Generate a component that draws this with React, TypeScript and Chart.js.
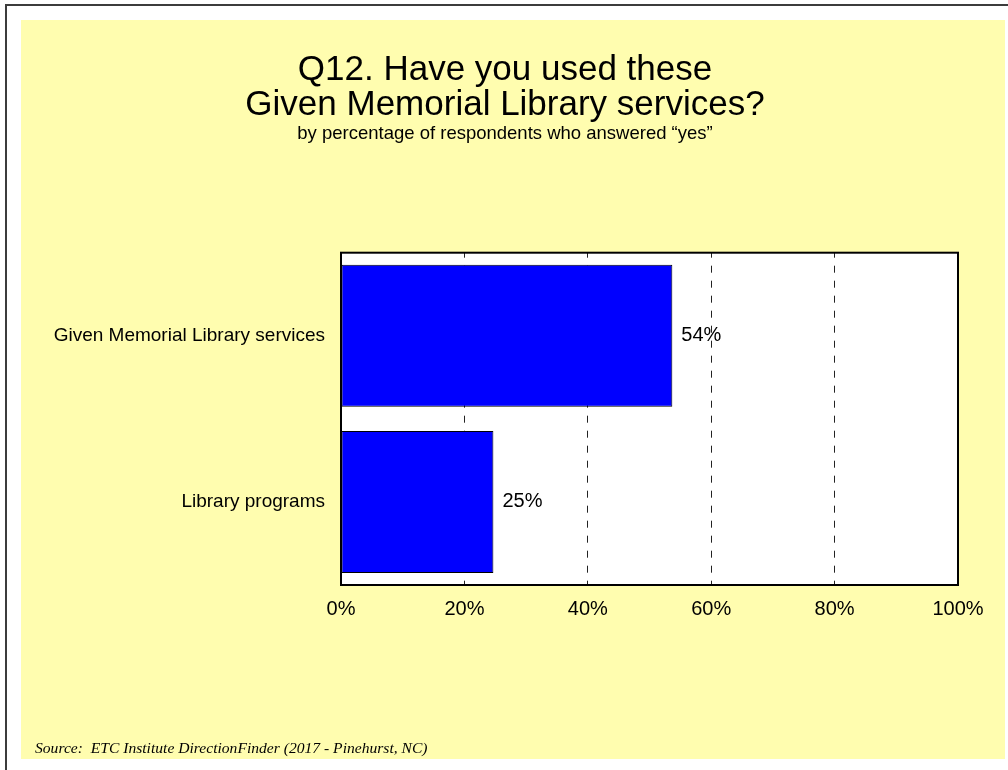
import React, { useEffect, useRef } from "react";
import { Chart, registerables } from "chart.js";

Chart.register(...registerables);

// Survey data: share of respondents answering "yes"
const categories = ["Given Memorial Library services", "Library programs"];
const yesPercent = [53.7, 24.7];
const axisMin = 0;
const axisMax = 100;
const axisStep = 20;

const titleLines = ["Q12. Have you used these", "Given Memorial Library services?"];
const subtitleText = "by percentage of respondents who answered \u201cyes\u201d";
const sourceText = "Source:  ETC Institute DirectionFinder (2017 - Pinehurst, NC)";

const SANS = '"Liberation Sans", Arial, Helvetica, sans-serif';
const SERIF = '"Liberation Serif", "Times New Roman", Times, serif';
const PANEL_W = 984;
const PANEL_H = 739;

// White plot background, black frame, value labels and the source note
const decorations = {
  id: "decorations",
  beforeDraw(chart: any) {
    const { ctx, chartArea: a } = chart;
    ctx.save();
    ctx.fillStyle = "#ffffff";
    ctx.fillRect(a.left, a.top, a.right - a.left, a.bottom - a.top);
    ctx.restore();
  },
  afterDatasetsDraw(chart: any) {
    const { ctx, chartArea: a } = chart;
    ctx.save();
    ctx.strokeStyle = "#000000";
    ctx.lineWidth = 2;
    ctx.strokeRect(a.left, a.top, a.right - a.left, a.bottom - a.top);

    const meta = chart.getDatasetMeta(0);
    ctx.fillStyle = "#000000";
    ctx.font = `20px ${SANS}`;
    ctx.textAlign = "left";
    ctx.textBaseline = "middle";
    meta.data.forEach((bar: any, i: number) => {
      const v = chart.data.datasets[0].data[i] as number;
      ctx.fillText(`${Math.round(v)}%`, bar.x + 9, bar.y);
    });

    ctx.font = `italic 15.6px ${SERIF}`;
    ctx.textBaseline = "alphabetic";
    ctx.fillText(sourceText, 14, 733);
    ctx.restore();
  },
};

export default function App() {
  const canvasRef = useRef<HTMLCanvasElement | null>(null);

  useEffect(() => {
    const canvas = canvasRef.current;
    if (!canvas) return;
    const chart = new Chart(canvas, {
      type: "bar",
      data: {
        labels: categories,
        datasets: [
          {
            data: yesPercent,
            backgroundColor: "#0000ff",
            borderColor: "#000000",
            borderWidth: 1,
            borderSkipped: false,
            categoryPercentage: 1,
            barPercentage: 0.855,
          },
        ],
      },
      plugins: [decorations],
      options: {
        indexAxis: "y",
        responsive: false,
        animation: false,
        devicePixelRatio: 1,
        layout: { padding: { left: 31, right: 47, top: 0, bottom: 0 } },
        plugins: {
          legend: { display: false },
          tooltip: { enabled: false },
          title: {
            display: true,
            text: titleLines,
            color: "#000000",
            font: { family: SANS, size: 35, weight: "normal", lineHeight: 1 },
            padding: { top: 33, bottom: 0 },
          },
          subtitle: {
            display: true,
            text: subtitleText,
            color: "#000000",
            font: { family: SANS, size: 18.5, weight: "normal", lineHeight: 1.2 },
            padding: { top: 0, bottom: 107.5 },
          },
        },
        scales: {
          x: {
            type: "linear",
            position: "bottom",
            min: axisMin,
            max: axisMax,
            ticks: {
              stepSize: axisStep,
              color: "#000000",
              font: { family: SANS, size: 20 },
              padding: 12,
              maxRotation: 0,
              callback: (v: any) => `${v}%`,
            },
            grid: {
              drawTicks: false,
              lineWidth: 1,
              color: (c: any) =>
                c.tick && (c.tick.value === axisMin || c.tick.value === axisMax)
                  ? "rgba(0,0,0,0)"
                  : "#222222",
              borderDash: [7, 8],
            } as any,
            border: { display: false, dash: [7, 8], dashOffset: 2 },
            afterFit: (s: any) => {
              s.height = 174;
            },
          },
          y: {
            type: "category",
            ticks: {
              color: "#000000",
              font: { family: SANS, size: 19 },
              padding: 16,
            },
            grid: { display: false, drawTicks: false },
            border: { display: false },
            afterFit: (s: any) => {
              s.width = 289;
            },
          },
        },
      } as any,
    });
    return () => chart.destroy();
  }, []);

  return (
    <div
      style={{
        position: "absolute",
        left: 0,
        top: 0,
        width: 1008,
        height: 770,
        background: "#ffffff",
        overflow: "hidden",
      }}
    >
      <div style={{ position: "absolute", left: 5, top: 4, width: 1003, height: 2, background: "#3c3c3c" }} />
      <div style={{ position: "absolute", left: 5, top: 4, width: 2, height: 766, background: "#3c3c3c" }} />
      <div
        style={{
          position: "absolute",
          left: 21,
          top: 20,
          width: PANEL_W,
          height: PANEL_H,
          background: "#fffdaf",
        }}
      >
        <canvas
          ref={canvasRef}
          width={PANEL_W}
          height={PANEL_H}
          style={{ display: "block", width: PANEL_W, height: PANEL_H }}
        />
      </div>
    </div>
  );
}
